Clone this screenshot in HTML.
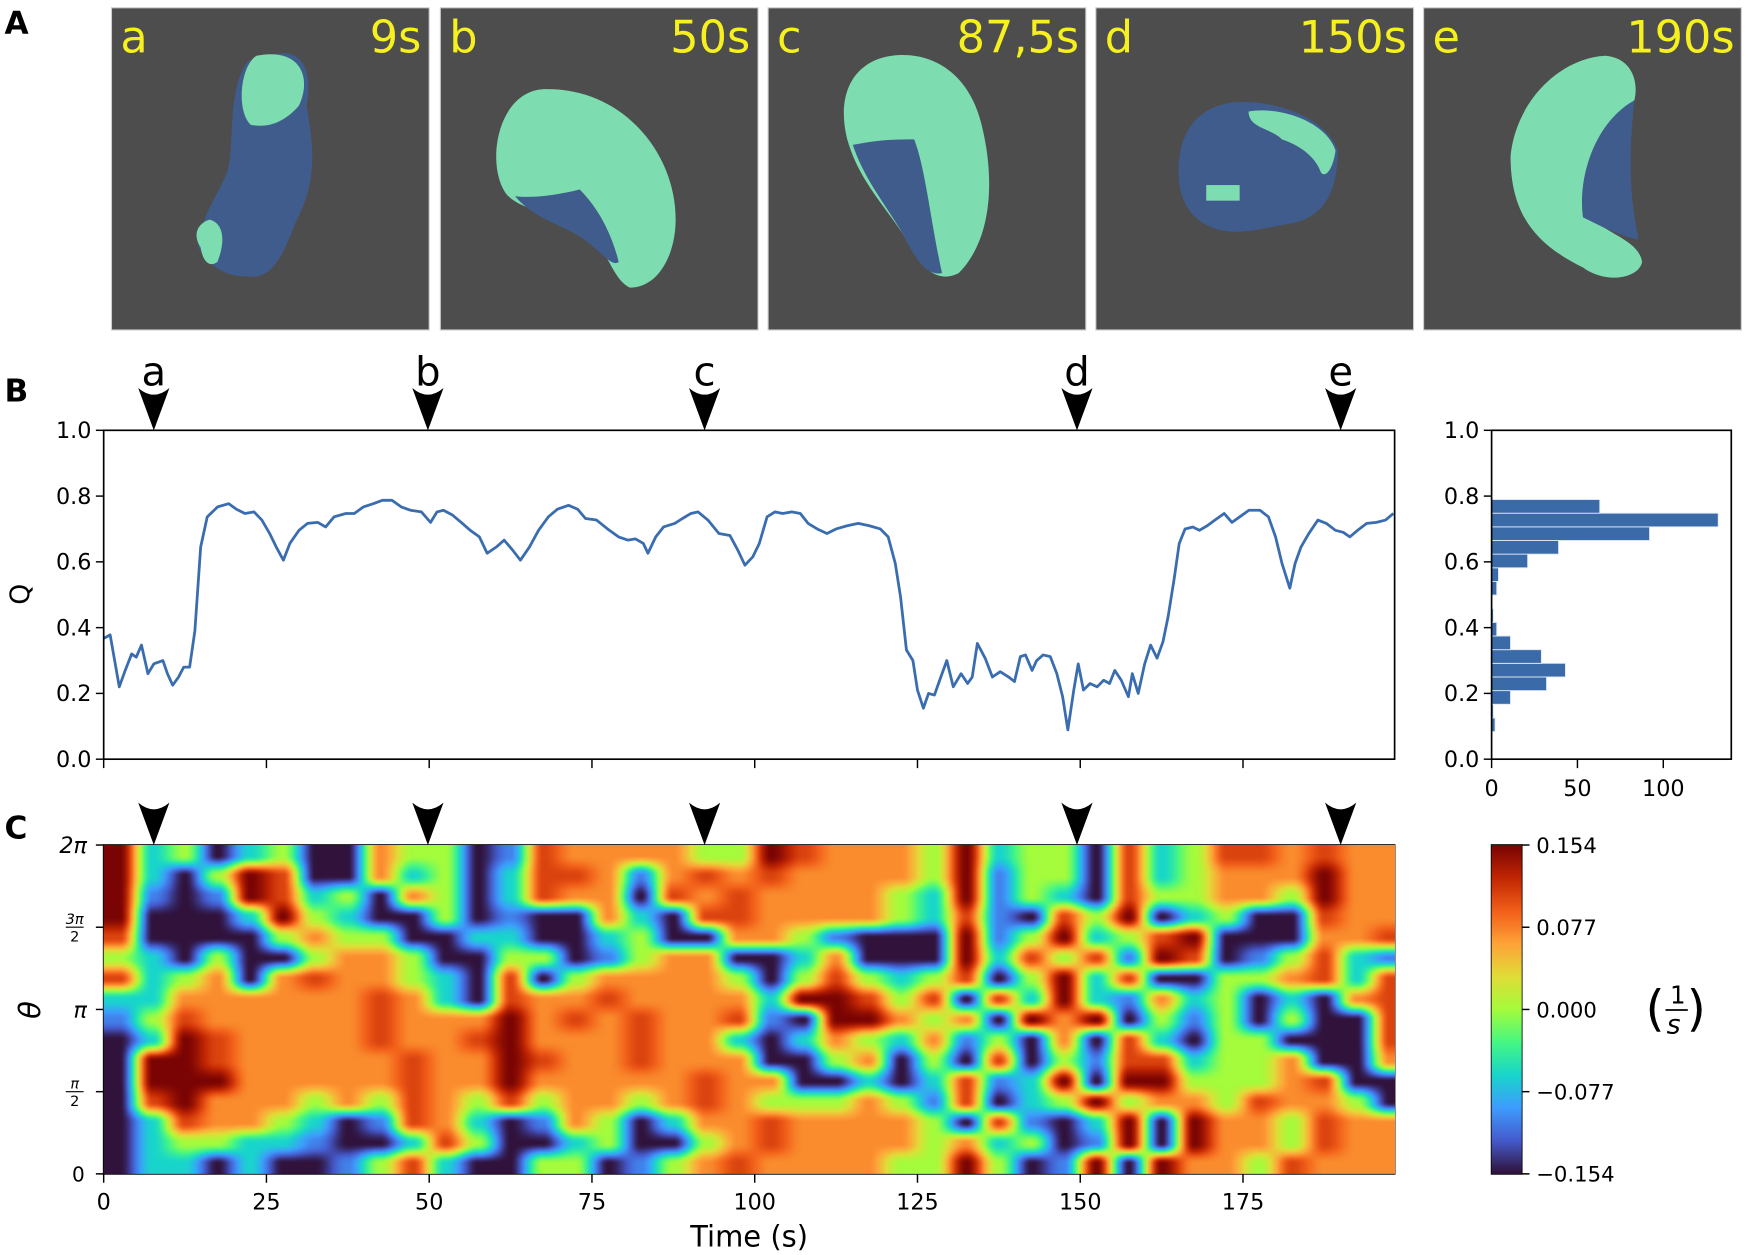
<!DOCTYPE html>
<html><head><meta charset="utf-8">
<style>
html,body{margin:0;padding:0;background:#fff;}
#outer{width:1748px;height:1255px;overflow:hidden;position:relative;}
#inner{position:absolute;left:0;top:0;width:1568px;height:1126px;transform:scale(1.11480);transform-origin:0 0;}
#fig{position:absolute;left:0;top:0;}
#heatwrap{position:absolute;left:93px;top:758px;width:1158px;height:295px;overflow:hidden;}
#heat{position:absolute;left:0;top:0;width:1168px;height:295px;}
#cbar{position:absolute;left:1338px;top:758px;width:27px;height:295px;}
text{font-family:"DejaVu Sans","Liberation Sans",sans-serif;}
</style></head>
<body>
<div id="outer">
<div id="inner">
<svg id="fig" width="1568" height="1126" viewBox="0 0 1568 1126" xmlns="http://www.w3.org/2000/svg">
  <text x="4" y="30" font-size="28" font-weight="bold">A</text>
  <g>
    <rect x="100" y="7" width="285" height="289" fill="#4d4d4d" stroke="#ccc" stroke-width="1"/>
    <path d="M250,48 C275,45 280,70 275,95 C283,140 283,165 265,200 C250,240 240,250 222,248 C200,248 188,238 178,222 C180,190 200,170 205,150 C210,120 205,80 222,55 Z" fill="#3f5c8c"/>
    <path d="M230,50 C270,42 280,70 268,95 C255,110 240,115 225,112 C212,100 215,60 230,50 Z" fill="#7ddcb0"/>
    <path d="M180,222 C172,210 178,200 188,197 C200,200 203,215 195,235 C188,240 182,235 180,222 Z" fill="#7ddcb0"/>
    <text x="108" y="47" font-size="40" fill="#f5f01e">a</text>
    <text x="378" y="47" font-size="40" fill="#f5f01e" text-anchor="end">9s</text>
  </g>
  <g>
    <rect x="395" y="7" width="285" height="289" fill="#4d4d4d" stroke="#ccc" stroke-width="1"/>
    <path d="M488,80 C560,78 608,140 606,200 C605,230 590,258 565,258 C548,250 545,220 520,200 C495,190 470,190 455,175 C435,150 445,82 488,80 Z" fill="#7ddcb0"/>
    <path d="M462,176 C478,178 500,175 520,170 C540,190 550,215 555,235 C548,240 540,225 520,212 C500,200 478,195 462,176 Z" fill="#3f5c8c"/>
    <text x="403" y="47" font-size="40" fill="#f5f01e">b</text>
    <text x="673" y="47" font-size="40" fill="#f5f01e" text-anchor="end">50s</text>
  </g>
  <g>
    <rect x="689" y="7" width="285" height="289" fill="#4d4d4d" stroke="#ccc" stroke-width="1"/>
    <path d="M800,50 C840,45 870,70 880,110 C893,160 890,215 860,245 C840,255 825,240 810,210 C790,180 770,160 760,125 C750,85 765,55 800,50 Z" fill="#7ddcb0"/>
    <path d="M765,130 C790,125 805,125 820,125 C830,150 835,200 845,245 C830,248 820,230 810,210 C792,180 775,160 765,130 Z" fill="#3f5c8c"/>
    <text x="697" y="47" font-size="40" fill="#f5f01e">c</text>
    <text x="968" y="47" font-size="40" fill="#f5f01e" text-anchor="end">87,5s</text>
  </g>
  <g>
    <rect x="983" y="7" width="285" height="289" fill="#4d4d4d" stroke="#ccc" stroke-width="1"/>
    <path d="M1105,92 C1140,88 1190,105 1200,135 C1200,175 1185,195 1160,200 C1130,205 1110,212 1090,205 C1060,195 1052,165 1060,130 C1068,105 1085,95 1105,92 Z" fill="#3f5c8c"/>
    <path d="M1120,100 C1150,95 1190,110 1198,135 C1196,150 1190,160 1185,155 C1180,140 1165,130 1150,125 C1140,115 1120,115 1120,100 Z" fill="#7ddcb0"/>
    <rect x="1082" y="166" width="30" height="14" fill="#7ddcb0"/>
    <text x="991" y="47" font-size="40" fill="#f5f01e">d</text>
    <text x="1262" y="47" font-size="40" fill="#f5f01e" text-anchor="end">150s</text>
  </g>
  <g>
    <rect x="1277" y="7" width="285" height="289" fill="#4d4d4d" stroke="#ccc" stroke-width="1"/>
    <path d="M1440,50 C1465,52 1470,75 1466,90 C1440,110 1420,150 1420,190 C1440,210 1470,215 1473,235 C1470,250 1440,255 1420,240 C1380,220 1355,195 1355,140 C1360,90 1400,52 1440,50 Z" fill="#7ddcb0"/>
    <path d="M1466,90 C1462,130 1460,170 1470,215 C1455,212 1440,205 1420,195 C1415,160 1430,110 1466,90 Z" fill="#3f5c8c"/>
    <text x="1285" y="47" font-size="40" fill="#f5f01e">e</text>
    <text x="1556" y="47" font-size="40" fill="#f5f01e" text-anchor="end">190s</text>
  </g>

  <text x="4" y="360" font-size="28" font-weight="bold">B</text>
  <g id="markersB"></g>
  <g id="markersC"></g>
  <g id="qaxes"></g>
  <path id="qline" fill="none" stroke="#3a6db0" stroke-width="2.5" stroke-linejoin="round"/>
  <rect x="93" y="386" width="1158" height="295" fill="none" stroke="#000" stroke-width="1.5"/>
  <text x="0" y="0" font-size="24" transform="translate(26,533) rotate(-90)" text-anchor="middle">Q</text>
  <g id="hist"></g>
  <rect x="1338" y="386" width="215" height="295" fill="none" stroke="#000" stroke-width="1.5"/>

  <text x="4" y="752" font-size="28" font-weight="bold">C</text>
  <g id="caxes"></g>
  <rect x="93" y="758" width="1158" height="295" fill="none" stroke="#000" stroke-width="1.5"/>
  <text x="0" y="0" font-size="26" font-style="italic" font-family="Liberation Serif, serif" transform="translate(36,906) rotate(-90)" text-anchor="middle">θ</text>
  <text x="672" y="1118" font-size="26" text-anchor="middle">Time (s)</text>
  <rect x="1338" y="758" width="27" height="295" fill="none" stroke="#000" stroke-width="1.5"/>
  <g id="cbticks"></g>
  <g>
    <text x="1476" y="920" font-size="44" font-family="Liberation Serif, serif">(</text>
    <text x="1498" y="900" font-size="22">1</text>
    <line x1="1494" y1="906" x2="1514" y2="906" stroke="#000" stroke-width="1.5"/>
    <text x="1495" y="927" font-size="24" font-style="italic">s</text>
    <text x="1513" y="920" font-size="44" font-family="Liberation Serif, serif">)</text>
  </g>
</svg>
<div id="heatwrap"><canvas id="heat" width="400" height="160"></canvas></div>
<canvas id="cbar" width="1" height="200"></canvas>
</div>
</div>
<script>
const qTime = [0,1.0,2.4,3.3,4.3,5.0,5.8,6.8,7.7,9.1,9.8,10.6,11.5,12.3,13.2,14.0,14.9,15.9,17.5,19.2,20.4,21.7,23.1,24.3,25.5,26.5,27.6,28.6,30.0,31.3,32.9,34.1,35.4,37.2,38.5,39.9,41.4,42.8,44.3,45.7,47.1,48.8,50.2,51.2,52.2,53.6,55.1,56.3,57.7,58.9,60.3,61.5,62.8,64.0,65.4,66.8,68.3,69.7,71.4,72.8,74.0,75.7,77.4,79.1,80.5,81.7,82.9,83.6,84.8,86.0,87.7,88.9,90.2,91.3,92.8,94.5,96.2,97.4,98.5,99.7,100.7,101.9,103.1,104.3,105.7,107.0,108.2,109.6,111.1,112.5,114.2,115.9,117.6,119.3,120.5,121.6,122.4,123.3,124.3,125.0,125.9,126.7,127.6,128.4,129.5,130.5,131.7,132.7,133.4,134.2,135.4,136.5,137.7,139.0,139.9,140.8,141.6,142.6,143.3,144.3,145.4,146.4,147.3,148.1,149.0,149.7,150.5,151.5,152.6,153.6,154.5,155.3,156.3,157.4,158.0,158.9,159.9,160.8,161.8,162.7,163.5,164.4,165.2,166.1,167.3,168.3,169.5,170.7,172.1,173.3,174.5,175.9,177.6,178.9,180.0,181.0,182.2,183.0,183.9,185.1,186.5,187.8,189.2,190.4,191.4,192.6,194.0,195.5,196.9,198.1];
const qValue = [0.367,0.378,0.22,0.27,0.32,0.31,0.347,0.26,0.29,0.30,0.26,0.225,0.25,0.28,0.28,0.39,0.645,0.737,0.767,0.777,0.76,0.747,0.752,0.727,0.686,0.645,0.605,0.656,0.696,0.717,0.72,0.706,0.737,0.747,0.747,0.767,0.777,0.787,0.787,0.767,0.757,0.752,0.72,0.752,0.757,0.742,0.717,0.696,0.676,0.626,0.645,0.666,0.636,0.605,0.645,0.696,0.737,0.76,0.772,0.76,0.732,0.727,0.70,0.676,0.666,0.67,0.656,0.626,0.676,0.706,0.717,0.732,0.747,0.752,0.727,0.686,0.68,0.636,0.59,0.615,0.656,0.737,0.752,0.747,0.752,0.747,0.717,0.70,0.686,0.70,0.71,0.717,0.71,0.70,0.676,0.595,0.494,0.332,0.30,0.21,0.155,0.20,0.195,0.24,0.30,0.22,0.26,0.23,0.25,0.352,0.307,0.25,0.266,0.25,0.236,0.312,0.317,0.27,0.30,0.317,0.312,0.26,0.19,0.089,0.21,0.29,0.21,0.23,0.22,0.24,0.23,0.27,0.24,0.19,0.26,0.20,0.29,0.347,0.307,0.357,0.433,0.545,0.656,0.70,0.706,0.696,0.71,0.727,0.747,0.72,0.737,0.757,0.757,0.737,0.676,0.595,0.52,0.595,0.645,0.686,0.727,0.717,0.696,0.69,0.676,0.696,0.717,0.72,0.727,0.747];
const qTicks = [0.0,0.2,0.4,0.6,0.8,1.0];
const timeTicks = [0,25,50,75,100,125,150,175];
const histBinStart = 0.084;
const histBinWidth = 0.0415;
const histCounts = [2,1,11,32,43,29,11,3,1,0,3,4,21,39,92,132,63];
const histTicks = [0,50,100];
const markerLabels = ['a','b','c','d','e'];
const markerTimes = [7.7,49.8,92.3,149.5,190.0];
const heatLevelValues = [-0.154,-0.105,-0.062,0.0,0.072,0.108,0.154];
const heatRows = [
"6230230043301544443365444362330523554544",
"6203650042302554145454444361330523444644",
"6101652304302544054544443261320533443644",
"6000263200301004205544443251053602300544",
"5000034330022002300443100061362356000445",
"3203003443003301344002400062535165013521",
"5234045443205034444303532350362500334525",
"2244444454205445444426653505262142302045",
"1354444454446454544510664340646031303005",
"0265444454456444544202432413040520330005",
"0665444445446544544400340305031552334004",
"0666444445446444445440020251260663334500",
"0564443435435344345433343150236344354430",
"0254432015420143024454444305102606443544",
"0233221002530023003454444342301606443544",
"0220200135200330134544443363016064435444"
];
const cbTickValues = [0.154,0.077,0.0,-0.077,-0.154];
const cbTickLabels = ['0.154','0.077','0.000','\u22120.077','\u22120.154'];
const thetaTickY = [0,0.5,1,1.5,2];

const NS='http://www.w3.org/2000/svg';
function X(t){return 93+t*5.84;}
function QY(q){return 681-q*295;}
function HX(c){return 1338+c*1.54;}
function TY(f){return 1053-f*147.5;}
function CY(v){return 905.5-v/0.154*147.5;}
function mk(tag,attrs,parent,txt){const e=document.createElementNS(NS,tag);for(const k in attrs)e.setAttribute(k,attrs[k]);if(txt!==undefined)e.textContent=txt;parent.appendChild(e);return e;}
const TURBO=[[48,18,59],[69,91,205],[62,156,254],[24,214,203],[70,247,131],[164,252,60],[225,221,55],[254,163,56],[242,96,26],[195,39,3],[122,4,3]];
function turbo(t){t=Math.max(0,Math.min(1,t))*10;const i=Math.min(9,Math.floor(t)),f=t-i;const a=TURBO[i],b=TURBO[i+1];
 return [0,1,2].map(k=>Math.round(a[k]+(b[k]-a[k])*f));}
function vcol(v){return turbo((v+0.154)/0.308);}

let d='';
for(let i=0;i<qTime.length;i++){d+=(i?'L':'M')+X(qTime[i]).toFixed(1)+','+QY(qValue[i]).toFixed(1);}
document.getElementById('qline').setAttribute('d',d);

const qa=document.getElementById('qaxes');
qTicks.forEach(q=>{
  const t=mk('line',{x1:86,x2:93,y1:QY(q),y2:QY(q),stroke:'#000','stroke-width':1.3},qa);
  
  
  const l=mk('text',{x:82,y:QY(q)+7,'font-size':20,'text-anchor':'end'},qa,q.toFixed(1));
  
  
  const t2=mk('line',{x1:1331,x2:1338,y1:QY(q),y2:QY(q),stroke:'#000','stroke-width':1.3},qa);
  
  
  const l2=mk('text',{x:1327,y:QY(q)+7,'font-size':20,'text-anchor':'end'},qa,q.toFixed(1));
  
  
});
timeTicks.forEach(tt=>{
  const t=mk('line',{x1:X(tt),x2:X(tt),y1:681,y2:689,stroke:'#000','stroke-width':1.3},qa);
  
  
});

const hg=document.getElementById('hist');
histCounts.forEach((c,i)=>{
  if(c<=0)return;
  const y0=QY(histBinStart+(i+1)*histBinWidth), y1=QY(histBinStart+i*histBinWidth);
  const r=mk('rect',{x:1338,y:y0,width:HX(c)-1338,height:y1-y0,fill:'#3a6aa8',stroke:'#dfe8f3','stroke-width':0.8},hg);
  
  
});
histTicks.forEach(c=>{
  const t=mk('line',{x1:HX(c),x2:HX(c),y1:681,y2:689,stroke:'#000','stroke-width':1.3},hg);
  
  
  const l=mk('text',{x:HX(c),y:714,'font-size':20,'text-anchor':'middle'},hg,String(c));
  
  
});

const mB=document.getElementById('markersB'), mC=document.getElementById('markersC');
function arrow(x,tip,parent){
  const p=mk('path',{d:`M${x},${tip} L${x-14},${tip-38} Q${x},${tip-26} ${x+14},${tip-38} Z`,fill:'#000'},parent);
  
  
}
markerTimes.forEach((t,i)=>{
  arrow(X(t),386,mB);
  const l=mk('text',{x:X(t),y:346,'font-size':36,'text-anchor':'middle'},mB,markerLabels[i]);
  
  
  arrow(X(t),758,mC);
});

const ca=document.getElementById('caxes');
timeTicks.forEach(tt=>{
  const t=mk('line',{x1:X(tt),x2:X(tt),y1:1053,y2:1061,stroke:'#000','stroke-width':1.3},ca);
  
  
  const l=mk('text',{x:X(tt),y:1085,'font-size':20,'text-anchor':'middle'},ca,String(tt));
  
  
});
thetaTickY.forEach(f=>{
  const y=TY(f);
  const t=mk('line',{x1:86,x2:93,y1:y,y2:y,stroke:'#000','stroke-width':1.3},ca);
  
  
  let l;
  if(f===0){l=mk('text',{x:76,y:y+7,'font-size':18,'text-anchor':'end'},ca,'0');}
  else if(f===1){l=mk('text',{x:78,y:y+7,'font-size':20,'font-style':'italic','font-family':'Liberation Serif, serif','text-anchor':'end'},ca,'π');}
  else if(f===2){l=mk('text',{x:78,y:y+7,'font-size':20,'font-style':'italic','font-family':'Liberation Serif, serif','text-anchor':'end'},ca,'2π');}
  else {
    l=mk('g',{},ca);
    mk('text',{x:67,y:y-3,'font-size':13,'font-style':'italic','font-family':'Liberation Serif, serif','text-anchor':'middle'},l,f===0.5?'π':'3π');
    mk('line',{x1:59,x2:75,y1:y,y2:y,stroke:'#000','stroke-width':1},l);
    mk('text',{x:67,y:y+13,'font-size':13,'text-anchor':'middle'},l,'2');
  }
  
  
});
const cbt=document.getElementById('cbticks');
cbTickValues.forEach((v,i)=>{
  const y=CY(v);
  const t=mk('line',{x1:1365,x2:1372,y1:y,y2:y,stroke:'#000','stroke-width':1.3},cbt);
  
  
  const l=mk('text',{x:1378,y:y+7,'font-size':19},cbt,cbTickLabels[i]);
  
  
});

const NR=heatRows.length, NC=heatRows[0].length;
const grid=heatRows.map(row=>row.split('').map(ch=>heatLevelValues[+ch]));
const W=400,H=160;
const hc=document.getElementById('heat').getContext('2d');
const img=hc.createImageData(W,H);
function gv(r,c){r=Math.max(0,Math.min(NR-1,r));c=Math.max(0,Math.min(NC-1,c));return grid[r][c];}
function sm(f){return f*f*(3-2*f);}
for(let py=0;py<H;py++){
  const gy=(py+0.5)/H*NR-0.5, r0=Math.floor(gy), fy=sm(gy-r0);
  for(let px=0;px<W;px++){
    const gx=(px+0.5)/W*NC-0.5, c0=Math.floor(gx), fx=sm(gx-c0);
    const v=(gv(r0,c0)*(1-fx)+gv(r0,c0+1)*fx)*(1-fy)+(gv(r0+1,c0)*(1-fx)+gv(r0+1,c0+1)*fx)*fy;
    const col=vcol(v);const k=(py*W+px)*4;
    img.data[k]=col[0];img.data[k+1]=col[1];img.data[k+2]=col[2];img.data[k+3]=255;
  }
}
hc.putImageData(img,0,0);
const cb=document.getElementById('cbar').getContext('2d');
for(let i=0;i<200;i++){const c=turbo(1-i/199);cb.fillStyle=`rgb(${c[0]},${c[1]},${c[2]})`;cb.fillRect(0,i,1,1);}
</script>
</body></html>
